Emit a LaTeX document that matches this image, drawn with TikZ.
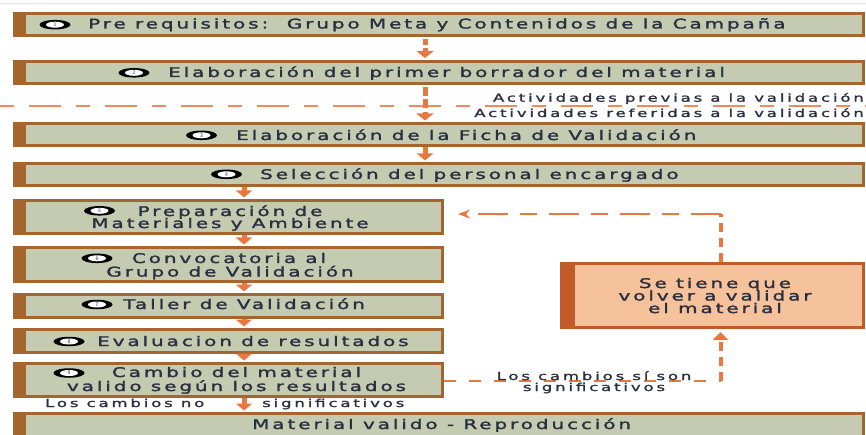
\documentclass[tikz,border=0pt]{standalone}
\usepackage{fontspec}
\usetikzlibrary{arrows.meta,shapes.geometric}
\newfontfamily\cf{DejaVu Sans}[FakeStretch=1.5,LetterSpace=22,FakeBold=2]
\newfontfamily\lf{DejaVu Sans}[FakeStretch=1.5,LetterSpace=26,FakeBold=1.8]
\definecolor{boxbrown}{HTML}{A5652E}
\definecolor{boxfill}{HTML}{C5CBB1}
\definecolor{arrorange}{HTML}{E9773F}
\definecolor{sepc}{HTML}{EE8B58}
\definecolor{rboxline}{HTML}{C35B28}
\definecolor{rboxfill}{HTML}{F5C29B}
\definecolor{textc}{HTML}{2A3040}
\definecolor{badgec}{HTML}{4A6A9A}
\begin{document}
\begin{tikzpicture}[x=1pt,y=-1pt,
 box/.style={rectangle, draw=boxbrown, line width=3pt, fill=boxfill, inner sep=0pt, outer sep=1.5pt,
   path picture={\fill[boxbrown] (path picture bounding box.south west) rectangle ([xshift=11pt]path picture bounding box.north west);}},
 rbox/.style={rectangle, draw=rboxline, line width=3pt, fill=rboxfill, inner sep=0pt, outer sep=1.5pt,
   path picture={\fill[rboxline] (path picture bounding box.south west) rectangle ([xshift=13pt]path picture bounding box.north west);}},
 txt/.style={inner sep=0pt, text=textc, font=\cf\fontsize{13.3}{14}\selectfont, anchor=base west},
 ctxt/.style={txt, anchor=base},
 lbl/.style={inner sep=0pt, text=textc, font=\lf\fontsize{11}{12}\selectfont, anchor=base west},
 clbl/.style={lbl, anchor=base},
 badge/.style={ellipse, fill=black, minimum width=31pt, minimum height=9.5pt, inner sep=0pt,
   text height=3.6pt, text depth=0pt, font=\fontsize{5.2}{5.2}\selectfont\sffamily\bfseries, text=badgec,
   path picture={\fill[white] (path picture bounding box.center) ellipse [x radius=9pt, y radius=3pt];}},
 sarr/.style={draw=arrorange, line width=5pt, -{Triangle[width=16pt,length=7pt]}, shorten >=1.5pt},
 darra/.style={draw=arrorange, line width=5pt, dash pattern=on 6pt off 3pt, -{Triangle[width=17pt,length=7pt]}, shorten <=2pt, shorten >=2pt},
 darrb/.style={draw=arrorange, line width=5pt, dash pattern=on 9pt off 3.5pt, -{Triangle[width=17pt,length=7pt]}, shorten <=2pt, shorten >=1.5pt},
 vdash/.style={draw=arrorange, line width=4pt, dash pattern=on 9pt off 6pt},
 hdasha/.style={draw=arrorange, line width=2pt, dash pattern=on 30pt off 12pt on 17pt off 12pt},
 hdashb/.style={draw=arrorange, line width=1.8pt, dash pattern=on 12pt off 13pt},
 sepline/.style={draw=sepc, line width=2.2pt, dash pattern=on 14pt off 15pt on 32pt off 15pt}
]
\useasboundingbox (0,0) rectangle (866,435);
\draw[black!10, line width=1pt] (0,4) -- (866,4);

% boxes
\node[box, minimum width=849pt, minimum height=22pt] (b1) at (439,24.5) {};
\node[box, minimum width=849pt, minimum height=22pt] (b2) at (439,72.5) {};
\node[box, minimum width=849pt, minimum height=22pt] (b3) at (439,134.5) {};
\node[box, minimum width=849pt, minimum height=22pt] (b4) at (439,174.5) {};
\node[box, minimum width=428pt, minimum height=33pt] (b5) at (228.5,217) {};
\node[box, minimum width=428pt, minimum height=34pt] (b6) at (228.5,264.5) {};
\node[box, minimum width=428pt, minimum height=23pt] (b7) at (228.5,306) {};
\node[box, minimum width=428pt, minimum height=23pt] (b8) at (228.5,341) {};
\node[box, minimum width=428pt, minimum height=33pt] (b9) at (228.5,380) {};
\node[box, minimum width=849pt, minimum height=31pt] (b10) at (439,429) {};
\node[rbox, minimum width=302pt, minimum height=64pt] (rb) at (712.5,295.5) {};

% separator
\coordinate (s1) at (0,106);
\coordinate (s2) at (866,106);
\draw[sepline] (s1) -- (s2);

% badges
\node[badge] (n1) at (55,24.7) {1};
\node[badge] (n2) at (134,72.8) {2};
\node[badge] (n3) at (201.5,135.3) {3};
\node[badge] (n4) at (226.5,174.3) {4};
\node[badge] (n5) at (99.5,210.8) {5};
\node[badge] (n6) at (97,258.3) {6};
\node[badge] (n7) at (97,304.5) {7};
\node[badge] (n8) at (69,341.5) {8};
\node[badge] (n9) at (69,373) {9};

% texts
\node[txt] (t1) at (88,28.5) {Pre requisitos:\ \ Grupo Meta y Contenidos de la Campaña};
\node[txt] (t2) at (168,77) {Elaboración del primer borrador del material};
\node[txt] (t3) at (236,140) {Elaboración de la Ficha de Validación};
\node[txt] (t4) at (260,179) {Selección del personal encargado};
\node[ctxt] (t5a) at (230,216) {Preparación de};
\node[ctxt] (t5b) at (230,228) {Materiales y Ambiente};
\node[ctxt] (t6a) at (229,263) {Convocatoria al};
\node[ctxt] (t6b) at (230,276.5) {Grupo de Validación};
\node[txt] (t7) at (123,309) {Taller de Validación};
\node[txt] (t8) at (97,346) {Evaluacion de resultados};
\node[ctxt] (t9a) at (236.5,377) {Cambio del material};
\node[ctxt] (t9b) at (236.5,391) {valido según los resultados};
\node[txt] (t10) at (252,429) {Material valido - Reproducción};
\node[ctxt] (r1) at (715,288) {Se tiene que};
\node[ctxt] (r2) at (715,300.5) {volver a validar};
\node[ctxt] (r3) at (715,313) {el material};

% labels
\node[lbl, anchor=base east] (a1) at (864,101.7) {Actividades previas a la validación};
\node[lbl, anchor=base east] (a2) at (864,117) {Actividades referidas a la validación};
\node[lbl] (l1) at (45,407) {Los cambios no};
\node[lbl] (l2) at (262,407) {significativos};

% connectors
\coordinate (cx) at (425,0);
\coordinate (lx) at (244,0);
\draw[darra] (b1.south -| cx) -- (b2.north -| cx);
\draw[darrb] (b2.south -| cx) -- (b3.north -| cx);
\draw[sarr] (b3.south -| cx) -- (b4.north -| cx);
\draw[sarr] (b4.south -| lx) -- (b5.north -| lx);
\draw[sarr] (b5.south -| lx) -- (b6.north -| lx);
\draw[sarr] (b6.south -| lx) -- (b7.north -| lx);
\draw[sarr] (b7.south -| lx) -- (b8.north -| lx);
\draw[sarr] (b8.south -| lx) -- (b9.north -| lx);
\draw[sarr] (b9.south -| lx) -- (b10.north -| lx);

\coordinate (c1) at (720.5,214);
\coordinate (c2) at (720.5,381);
\draw[vdash] (rb.north -| c1) -- (c1);
\draw[hdasha, -{Stealth[length=12pt,width=9pt]}, shorten >=14pt] (c1) -- (c1 -| b5.east);
\draw[hdashb] (b9.east |- c2) -- (c2);
\draw[vdash, -{Triangle[width=15pt,length=8pt]}, shorten >=3pt] (c2) -- (rb.south -| c2);
\node[clbl] (s3) at (594,380) {Los cambios sí son};
\node[clbl] (s4) at (594,391) {significativos};
\end{tikzpicture}
\end{document}
